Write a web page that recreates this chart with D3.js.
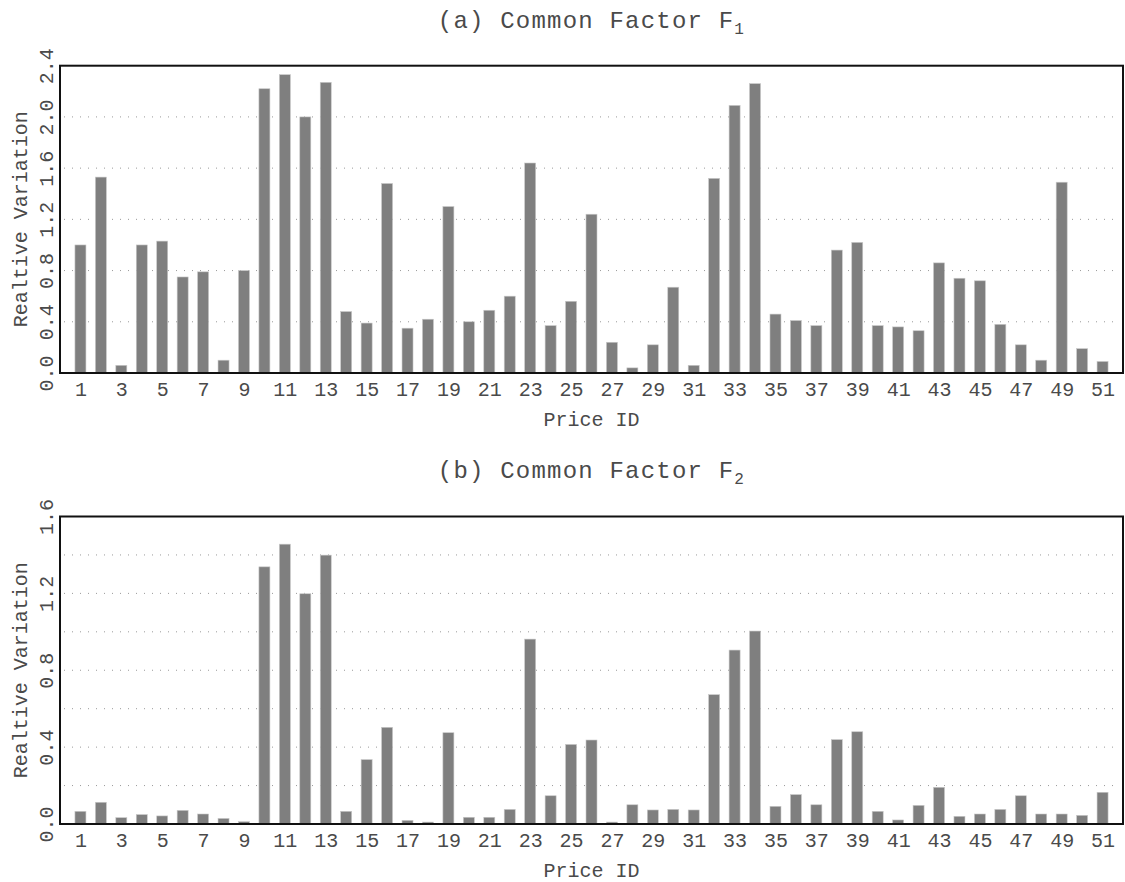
<!DOCTYPE html>
<html>
<head>
<meta charset="utf-8">
<script src="https://cdn.jsdelivr.net/npm/d3@7"></script>
<style>
  body { margin: 0; background: #fff; }
  text { font-family: "Liberation Mono", "DejaVu Sans Mono", monospace; fill: #4a4a4a; }
</style>
</head>
<body>
<div id="chart"></div>
<script>
// price ids 1..51
var priceIds = d3.range(1, 52);
var xTickValues = d3.range(1, 52, 2);

// common factor F1, relative variation
var factor1 = [1.00, 1.53, 0.06, 1.00, 1.03, 0.75, 0.79, 0.10, 0.80, 2.22,
  2.33, 2.00, 2.27, 0.48, 0.39, 1.48, 0.35, 0.42, 1.30, 0.40,
  0.49, 0.60, 1.64, 0.37, 0.56, 1.24, 0.24, 0.04, 0.22, 0.67,
  0.06, 1.52, 2.09, 2.26, 0.46, 0.41, 0.37, 0.96, 1.02, 0.37,
  0.36, 0.33, 0.86, 0.74, 0.72, 0.38, 0.22, 0.10, 1.49, 0.19,
  0.09];

// common factor F2, relative variation
var factor2 = [0.066, 0.113, 0.033, 0.049, 0.042, 0.071, 0.052, 0.029, 0.012, 1.338,
  1.456, 1.198, 1.399, 0.066, 0.335, 0.503, 0.019, 0.010, 0.475, 0.035,
  0.035, 0.076, 0.962, 0.147, 0.414, 0.437, 0.010, 0.100, 0.073, 0.076,
  0.073, 0.673, 0.905, 1.004, 0.092, 0.153, 0.100, 0.439, 0.480, 0.066,
  0.021, 0.097, 0.191, 0.040, 0.052, 0.076, 0.147, 0.052, 0.052, 0.045,
  0.165];

var yTicks1 = [0, 0.4, 0.8, 1.2, 1.6, 2.0, 2.4];
var yGrid1 = [0.4, 0.8, 1.2, 1.6, 2.0];
var yTicks2 = [0, 0.4, 0.8, 1.2, 1.6];
var yGrid2 = [0.2, 0.4, 0.6, 0.8, 1.0, 1.2, 1.4];

var svgWidth = 1125;
var svgHeight = 882;

var svg = d3.select("#chart")
  .append("svg")
  .attr("width", svgWidth)
  .attr("height", svgHeight);

var left = 60;
var right = 1123;

var xScale = d3.scaleLinear()
  .domain([0, 52])
  .range([left, right]);

function drawPanel(opts) {
  var yScale = d3.scaleLinear()
    .domain([0, opts.yMax])
    .range([opts.bottom, opts.top]);

  var g = svg.append("g");

  // dotted grid
  g.selectAll(".grid")
    .data(opts.grid)
    .enter()
    .append("line")
    .attr("x1", left + 4)
    .attr("x2", right - 4)
    .attr("y1", d => yScale(d))
    .attr("y2", d => yScale(d))
    .attr("stroke", "#999")
    .attr("stroke-width", 1)
    .attr("stroke-dasharray", "1,7");

  // bars
  var barW = 11;
  g.selectAll(".bar")
    .data(opts.values)
    .enter()
    .append("rect")
    .attr("x", (d, i) => xScale(priceIds[i]) - barW / 2)
    .attr("y", d => yScale(d))
    .attr("width", barW)
    .attr("height", d => opts.bottom - yScale(d))
    .attr("fill", "#7f7f7f")
    .attr("stroke", "#c8c8c8")
    .attr("stroke-width", 0.6);

  // frame
  g.append("rect")
    .attr("x", left)
    .attr("y", opts.top)
    .attr("width", right - left)
    .attr("height", opts.bottom - opts.top)
    .attr("fill", "none")
    .attr("stroke", "#111")
    .attr("stroke-width", 2);

  // x axis
  var xAxis = g.append("g")
    .attr("transform", `translate(0, ${opts.bottom})`)
    .call(d3.axisBottom(xScale).tickValues(xTickValues).tickSize(0).tickPadding(0));
  xAxis.select(".domain").remove();
  xAxis.selectAll("text")
    .attr("y", 23)
    .attr("dy", null)
    .attr("font-size", 20)
    .style("font-family", null);

  // y axis, rotated labels
  var yAxis = g.append("g")
    .attr("transform", `translate(${left}, 0)`)
    .call(d3.axisLeft(yScale).tickValues(opts.ticks).tickSize(0).tickFormat(d3.format(".1f")));
  yAxis.select(".domain").remove();
  yAxis.selectAll("text")
    .attr("x", null)
    .attr("dy", null)
    .attr("text-anchor", "middle")
    .attr("font-size", 20)
    .attr("transform", "translate(-7, 0) rotate(-90)");

  // title
  var title = svg.append("text")
    .attr("x", (left + right) / 2)
    .attr("y", opts.titleY)
    .attr("text-anchor", "middle")
    .attr("font-size", 24)
    .attr("letter-spacing", 1.2);
  title.append("tspan").text(opts.title);
  title.append("tspan")
    .attr("font-size", 16)
    .attr("dy", 6)
    .text(opts.sub);

  // x label
  svg.append("text")
    .attr("x", (left + right) / 2)
    .attr("y", opts.bottom + 53)
    .attr("text-anchor", "middle")
    .attr("font-size", 20)
    .text("Price ID");

  // y label
  svg.append("text")
    .attr("transform", `translate(27, ${(opts.top + opts.bottom) / 2}) rotate(-90)`)
    .attr("text-anchor", "middle")
    .attr("font-size", 20)
    .text("Realtive Variation");
}

drawPanel({
  values: factor1, yMax: 2.4, ticks: yTicks1, grid: yGrid1,
  top: 65.7, bottom: 373, titleY: 28,
  title: "(a) Common Factor F", sub: "1"
});

drawPanel({
  values: factor2, yMax: 1.6, ticks: yTicks2, grid: yGrid2,
  top: 516.5, bottom: 824, titleY: 478,
  title: "(b) Common Factor F", sub: "2"
});
</script>
</body>
</html>
